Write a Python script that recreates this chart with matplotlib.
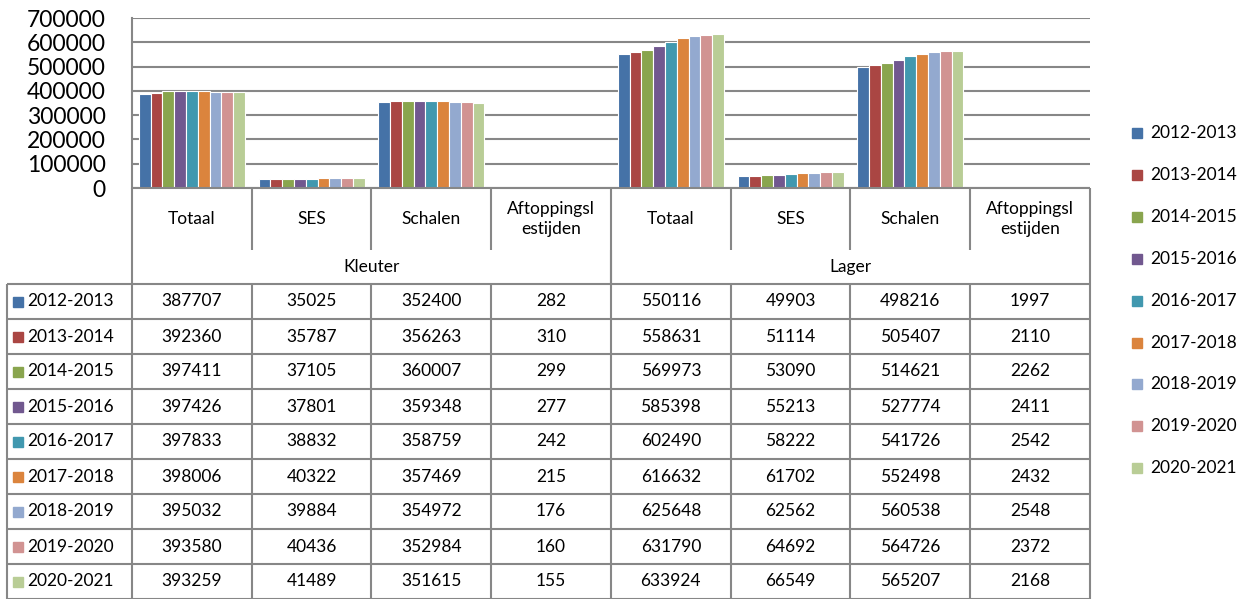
import matplotlib.pyplot as plt
import numpy as np

# data
categories = ['Totaal', 'SES', 'Schalen', 'Aftoppingsl\nestijden',
              'Totaal', 'SES', 'Schalen', 'Aftoppingsl\nestijden']
groups = ['Kleuter', 'Lager']
years = ['2012-2013', '2013-2014', '2014-2015', '2015-2016', '2016-2017',
         '2017-2018', '2018-2019', '2019-2020', '2020-2021']

v2012 = [387707, 35025, 352400, 282, 550116, 49903, 498216, 1997]
v2013 = [392360, 35787, 356263, 310, 558631, 51114, 505407, 2110]
v2014 = [397411, 37105, 360007, 299, 569973, 53090, 514621, 2262]
v2015 = [397426, 37801, 359348, 277, 585398, 55213, 527774, 2411]
v2016 = [397833, 38832, 358759, 242, 602490, 58222, 541726, 2542]
v2017 = [398006, 40322, 357469, 215, 616632, 61702, 552498, 2432]
v2018 = [395032, 39884, 354972, 176, 625648, 62562, 560538, 2548]
v2019 = [393580, 40436, 352984, 160, 631790, 64692, 564726, 2372]
v2020 = [393259, 41489, 351615, 155, 633924, 66549, 565207, 2168]
series = [v2012, v2013, v2014, v2015, v2016, v2017, v2018, v2019, v2020]

colors = ['#4572A7', '#AA4643', '#89A54E', '#71588F', '#4198AF',
          '#DB843D', '#93A9CF', '#D19392', '#B9CD96']

plt.rcParams['font.family'] = ['Lato', 'DejaVu Sans']
grey = '#878787'

W, H = 1259, 599
fig = plt.figure(figsize=(W / 100, H / 100), dpi=100)

# plot area in pixels
left, right, top, bottom = 132, 1090, 18, 188
ax = fig.add_axes([left / W, 1 - bottom / H, (right - left) / W, (bottom - top) / H])

n = len(series)
x = np.arange(len(categories))
bw = 0.885 / n
for i, vals in enumerate(series):
    ax.bar(x - 0.885 / 2 + bw * (i + 0.5), vals, width=bw, color=colors[i],
           edgecolor='white', linewidth=0.8, zorder=3)

ax.set_xlim(-0.5, len(categories) - 0.5)
ax.set_ylim(0, 700000)
ax.set_yticks(np.arange(0, 700001, 100000))
ax.set_yticklabels([str(t) for t in range(0, 700001, 100000)], fontsize=16.5)
ax.yaxis.grid(True, color=grey, linewidth=1.5, zorder=0)
ax.set_xticks([])
ax.tick_params(axis='y', length=0, pad=19)
for s in ['top', 'right', 'bottom']:
    ax.spines[s].set_visible(False)
ax.spines['left'].set_color(grey)
ax.spines['left'].set_linewidth(1.5)

# data table drawn in pixel coordinates
tab = fig.add_axes([0, 0, 1, 1], facecolor='none')
tab.set_xlim(0, W)
tab.set_ylim(H, 0)
tab.axis('off')

col_w = (right - left) / len(categories)
col_x = [left + col_w * k for k in range(len(categories) + 1)]
hdr_bot, grp_bot = 250, 284
row_h = (H - grp_bot) / n
row_y = [grp_bot + row_h * k for k in range(n + 1)]
lab_left = 7
lw = 1.5
fs = 12.5

def line(x0, y0, x1, y1):
    tab.plot([x0, x1], [y0, y1], color=grey, linewidth=lw, solid_capstyle='butt')

# axis baseline and header
line(left, bottom, right, bottom)
for cx in col_x:
    line(cx, bottom, cx, hdr_bot)
for k, c in enumerate(categories):
    tab.text(col_x[k] + col_w / 2, (bottom + hdr_bot) / 2, c, ha='center', va='center',
             fontsize=fs, linespacing=1.3)

# group row
per = len(categories) // len(groups)
for g, name in enumerate(groups):
    gx0 = col_x[g * per]
    gx1 = col_x[(g + 1) * per]
    line(gx0, hdr_bot, gx0, grp_bot)
    line(gx1, hdr_bot, gx1, grp_bot)
    tab.text((gx0 + gx1) / 2, (hdr_bot + grp_bot) / 2, name, ha='center', va='center',
             fontsize=fs)

# data rows
for ry in row_y:
    line(lab_left, ry, right, ry)
for cx in [lab_left] + col_x:
    line(cx, grp_bot, cx, H)
for i, vals in enumerate(series):
    yc = (row_y[i] + row_y[i + 1]) / 2
    tab.add_patch(plt.Rectangle((13, yc - 5), 10, 10, color=colors[i]))
    tab.text(27, yc, years[i], ha='left', va='center', fontsize=fs)
    for k, v in enumerate(vals):
        tab.text(col_x[k] + col_w / 2, yc, str(v), ha='center', va='center', fontsize=fs)

# legend on the right
leg_y0, leg_dy = 133, 41.9
for i, yr in enumerate(years):
    yc = leg_y0 + leg_dy * i
    tab.add_patch(plt.Rectangle((1132, yc - 5), 10, 10, color=colors[i]))
    tab.text(1150, yc, yr, ha='left', va='center', fontsize=fs)

fig.savefig('out.png', dpi=100)
